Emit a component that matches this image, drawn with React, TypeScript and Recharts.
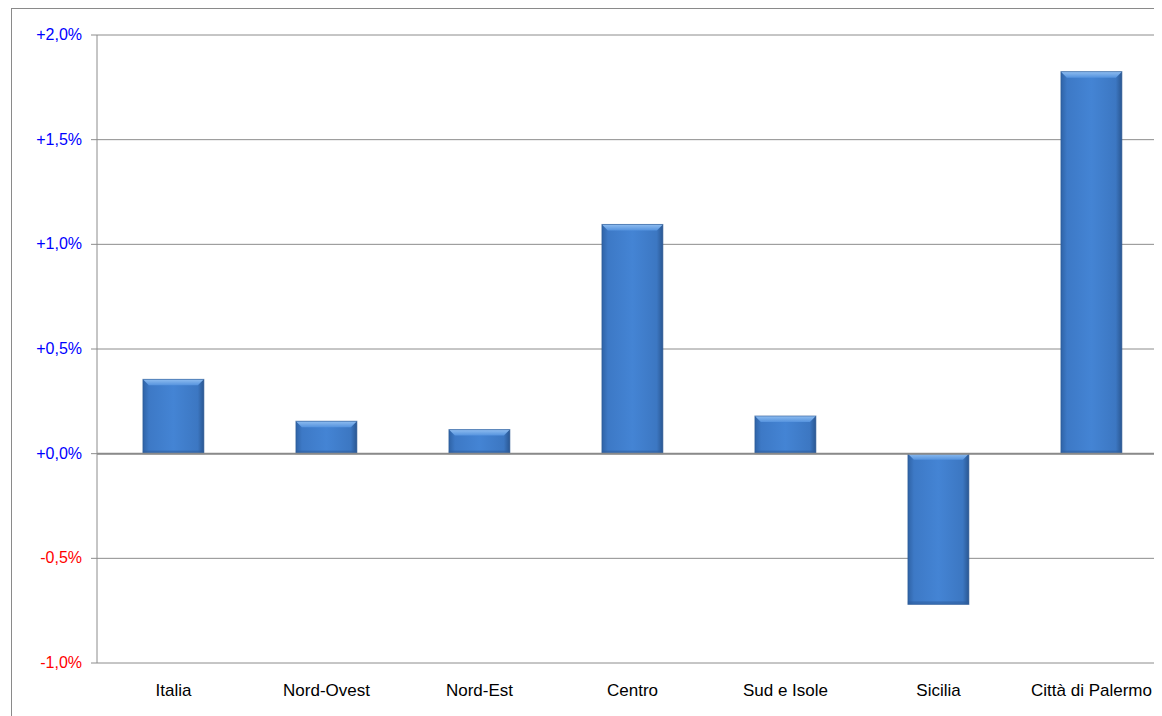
import { Bar, BarChart, CartesianGrid, ReferenceLine, XAxis, YAxis } from "recharts";

// variazione percentuale per area territoriale
const areas = ["Italia", "Nord-Ovest", "Nord-Est", "Centro", "Sud e Isole", "Sicilia", "Città di Palermo"];
const variations = [0.355, 0.155, 0.115, 1.095, 0.18, -0.72, 1.825];
const yTicks = [-1, -0.5, 0, 0.5, 1, 1.5, 2];

const data = areas.map((area, i) => ({ area, value: variations[i] }));

const fmtPct = (v: number) => `${v < 0 ? "-" : "+"}${Math.abs(v).toFixed(1).replace(".", ",")}%`;

function YTick(props: any) {
  const { x, y, payload } = props;
  const v = payload.value as number;
  return (
    <text x={x} y={y} dy={5} textAnchor="end" fontSize={16} fill={v < 0 ? "#ff0000" : "#0000ff"}>
      {fmtPct(v)}
    </text>
  );
}

function BevelBar(props: any) {
  const { x, width } = props;
  let { y, height } = props;
  if (height < 0) {
    y = y + height;
    height = -height;
  }
  if (!height) return null;
  const bevel = Math.min(6, height / 2);
  return (
    <g>
      <rect x={x} y={y} width={width} height={height} fill="url(#barBody)" />
      <polygon
        points={`${x},${y} ${x + width},${y} ${x + width - bevel},${y + bevel} ${x + bevel},${y + bevel}`}
        fill="url(#barTop)"
      />
      <rect x={x} y={y + height - 3} width={width} height={3} fill="#2d5c9c" opacity={0.55} />
      <rect x={x} y={y} width={width} height={height} fill="none" stroke="#2a5894" strokeOpacity={0.6} strokeWidth={1} />
    </g>
  );
}

export default function App() {
  return (
    <div
      style={{
        position: "relative",
        margin: "-8px 0 0 -8px",
        width: 1162,
        height: 716,
        overflow: "hidden",
        background: "#fff",
        fontFamily: "'Liberation Sans', Arial, sans-serif"
      }}
    >
      <div
        style={{
          position: "absolute",
          left: 11,
          top: 8,
          width: 1200,
          height: 800,
          borderLeft: "1px solid #8a8a8a",
          borderTop: "1px solid #8a8a8a"
        }}
      />
      <div style={{ position: "absolute", left: 0, top: 0 }}>
        <BarChart
          width={1170}
          height={716}
          data={data}
          margin={{ top: 35, right: 2, bottom: 13, left: 0 }}
          barCategoryGap="30%"
        >
          <defs>
            <linearGradient id="barBody" x1="0" y1="0" x2="1" y2="0">
              <stop offset="0%" stopColor="#2f63a6" />
              <stop offset="10%" stopColor="#3d79c6" />
              <stop offset="50%" stopColor="#4484d4" />
              <stop offset="90%" stopColor="#3c77c2" />
              <stop offset="100%" stopColor="#2a5792" />
            </linearGradient>
            <linearGradient id="barTop" x1="0" y1="0" x2="0" y2="1">
              <stop offset="0%" stopColor="#8fbdf0" />
              <stop offset="100%" stopColor="#5593de" />
            </linearGradient>
          </defs>
          <CartesianGrid vertical={false} stroke="#8c8c8c" strokeWidth={1} />
          <XAxis
            dataKey="area"
            axisLine={false}
            tickLine={false}
            tickSize={0}
            tickMargin={21}
            height={40}
            interval={0}
            tick={{ fontSize: 17, fill: "#000" }}
          />
          <YAxis
            domain={[-1, 2]}
            ticks={yTicks}
            width={97}
            interval={0}
            tickSize={6}
            tickMargin={9}
            axisLine={{ stroke: "#8c8c8c" }}
            tickLine={{ stroke: "#8c8c8c" }}
            tick={<YTick />}
          />
          <ReferenceLine y={0} stroke="#8a8a8a" strokeWidth={2} />
          <Bar dataKey="value" shape={<BevelBar />} isAnimationActive={false} />
        </BarChart>
      </div>
    </div>
  );
}
